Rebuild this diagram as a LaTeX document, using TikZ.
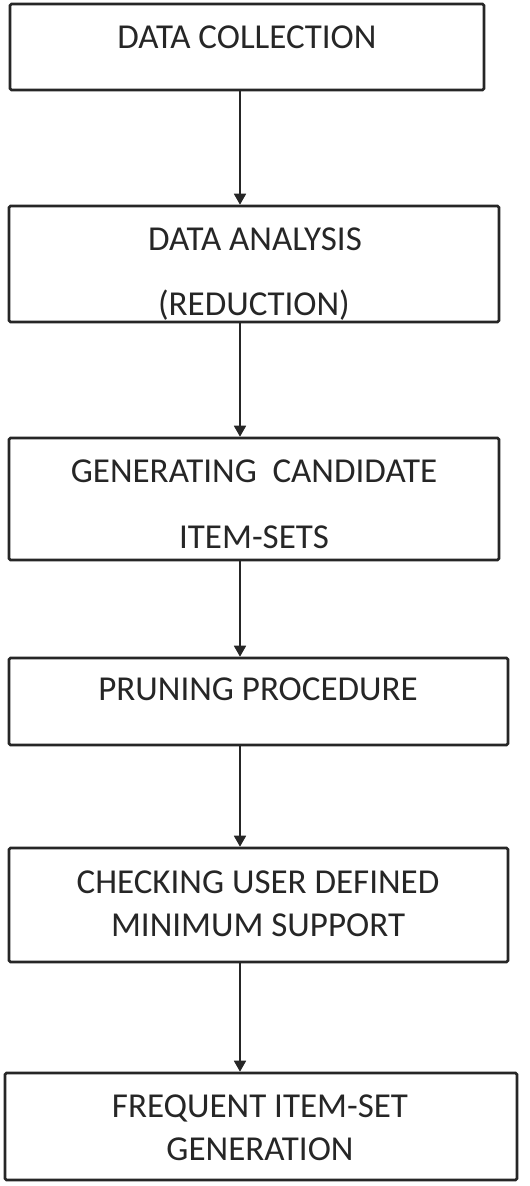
\documentclass[tikz,border=0pt]{standalone}
\usepackage{fontspec}
\setmainfont{Carlito}
\usetikzlibrary{arrows.meta}
\definecolor{ink}{HTML}{262626}
\begin{document}
\begin{tikzpicture}[x=1pt,y=-1pt,
  box/.style={draw=ink,line width=2.6pt,rounded corners=1.5pt,inner sep=0pt,minimum width=#1},
  txt/.style={anchor=base,inner sep=0pt,text=ink,font=\fontsize{35}{40}\selectfont},
  arr/.style={draw=ink,line width=1.8pt,-{Triangle[width=12pt,length=11pt]}}]
\useasboundingbox (0,0) rectangle (530,1186);
\coordinate (ax) at (240,0);
\node[box=474pt,minimum height=86pt] (b1) at (247,47) {};
\node[box=490pt,minimum height=116pt] (b2) at (254,264) {};
\node[box=490pt,minimum height=122pt] (b3) at (254,499) {};
\node[box=499pt,minimum height=87pt] (b4) at (258.5,701.5) {};
\node[box=499pt,minimum height=114pt] (b5) at (258.5,905) {};
\node[box=512pt,minimum height=107pt] (b6) at (261,1126.5) {};
\node[txt] (t1) at (247,48) {DATA COLLECTION};
\node[txt] (t2a) at (255,250) {DATA ANALYSIS};
\node[txt] (t2b) at (254,315) {(REDUCTION)};
\node[txt] (t3a) at (254,482) {GENERATING\hspace{0.45em}CANDIDATE};
\node[txt] (t3b) at (254,548) {ITEM-SETS};
\node[txt] (t4) at (258,700) {PRUNING PROCEDURE};
\node[txt] (t5a) at (258,893) {CHECKING USER DEFINED};
\node[txt] (t5b) at (258,936) {MINIMUM SUPPORT};
\node[txt] (t6a) at (260,1117) {FREQUENT ITEM-SET};
\node[txt] (t6b) at (260,1160) {GENERATION};
\draw[arr] (b1.south -| ax) -- (b2.north -| ax);
\draw[arr] (b2.south -| ax) -- (b3.north -| ax);
\draw[arr] (b3.south -| ax) -- (b4.north -| ax);
\draw[arr] (b4.south -| ax) -- (b5.north -| ax);
\draw[arr] (b5.south -| ax) -- (b6.north -| ax);
\end{tikzpicture}
\end{document}
